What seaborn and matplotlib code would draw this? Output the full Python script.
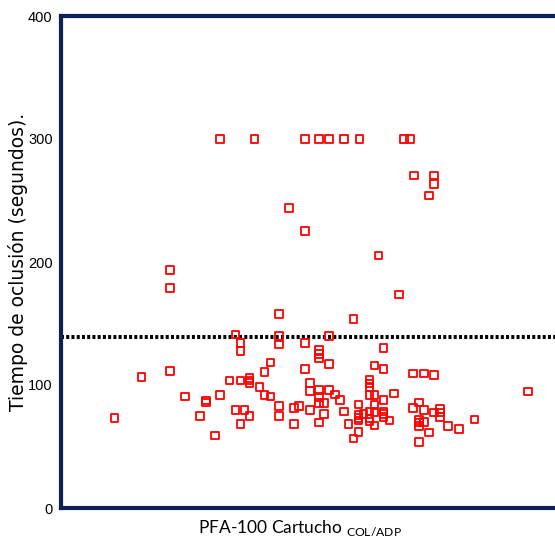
import matplotlib
matplotlib.use("Agg")
import matplotlib.pyplot as plt
import seaborn as sns
import pandas as pd

# ---- data ----
x_pos = [1.60, 1.95, 2.46, 2.60, 2.70, 2.85, 3.01, 3.46, 3.52,
         1.10, 1.10, 2.30, 2.46, 3.56, 3.76, 3.76, 3.71, 3.20, 3.41, 2.20, 2.95,
         1.76, 1.81, 1.81, 2.20, 2.20, 2.70, 2.46, 2.60, 2.60, 2.60, 2.70, 2.11, 2.05, 2.46,
         3.25, 3.16, 3.25, 3.55, 3.66, 3.76,
         0.81, 1.10, 1.70, 1.81, 1.90, 1.90, 1.90, 2.00, 2.05, 2.11, 1.25, 1.46, 1.46, 1.60,
         0.54, 1.40, 1.55, 1.76, 1.85, 1.90, 1.81, 2.20, 2.20, 2.35, 2.40, 2.35,
         2.51, 2.51, 2.51, 2.60, 2.60, 2.60, 2.65, 2.70, 2.76, 2.81, 2.65, 2.60, 2.85, 2.90, 2.95,
         3.00, 3.00, 3.00, 3.00, 3.00, 3.05,
         3.11, 3.11, 3.11, 3.11, 3.16, 3.11, 3.11, 3.11, 3.16, 3.16, 3.16,
         3.25, 3.25, 3.25, 3.25, 3.31, 3.36,
         3.55, 3.61, 3.66, 3.61, 3.61, 3.61, 3.66, 3.71, 3.61,
         3.76, 3.82, 3.82, 3.82, 3.90, 4.01, 4.17, 4.71]

occlusion_time = [300, 300, 300, 300, 300, 300, 300, 300, 300,
                  193.5, 178.9, 243.7, 225.2, 270.2, 270.2, 263.4, 254.2, 205.4, 173.7, 157.7, 153.7,
                  140.9, 134.1, 127.6, 139.8, 132.8, 139.8, 134.1, 128.5, 125.2, 121.7, 117.1, 118.4, 110.6, 113,
                  130.3, 115.7, 113, 109.2, 109.2, 107.9,
                  106.5, 111.6, 103.8, 103.8, 105.9, 103.8, 101.6, 98.4, 92.1, 90.5, 90.5, 87.4, 85.8, 91.9,
                  73.4, 74.8, 58.8, 79.9, 79.9, 74.8, 68.3, 82.7, 74.8, 81.5, 82.7, 68.3,
                  101.4, 94.9, 79.9, 95.9, 90, 85.3, 85.6, 95.9, 92.4, 87.8, 76.2, 69.5, 78.6, 68.3, 56.4,
                  84.3, 75.6, 73.4, 71, 61.8, 76.2,
                  104.1, 101.2, 98.4, 91.9, 91.9, 78.3, 72.9, 70.2, 84.3, 77.5, 67.2,
                  87.8, 78.3, 76.2, 74.2, 71, 93.2,
                  81.5, 85.9, 79.9, 71.5, 69.4, 66.7, 69.7, 61.5, 53.7,
                  77.5, 80.5, 77.5, 74.2, 66.9, 64.2, 72.1, 94.6]

cutoff = [139]
y_ticks = [0, 100, 200, 300, 400]
x_ticks = [0, 1, 2, 3, 4]

assert len(x_pos) == len(occlusion_time)
df = pd.DataFrame({"x": x_pos, "y": occlusion_time})

# ---- figure ----
sns.set_style("white")
navy = "#0b2158"
fig = plt.figure(figsize=(5.55, 5.46), dpi=100)
W, H = 555, 546
left_px, right_px, top_px, bottom_px = 61, 565, 16, 508
ax = fig.add_axes([left_px / W, (H - bottom_px) / H,
                   (right_px - left_px) / W, (bottom_px - top_px) / H])

sns.scatterplot(data=df, x="x", y="y", marker="s", s=30,
                facecolor="none", edgecolor="#ff0000", linewidth=1.3, ax=ax, zorder=3)

ax.axhline(cutoff[0], color="black", linewidth=2.9, linestyle=(0, (0.75, 0.55)),
           dash_capstyle="butt", zorder=2)

ax.set_xlim(0, (right_px - 62) / 99)
ax.set_ylim(0, 400)
ax.set_yticks(y_ticks)
ax.set_yticklabels([str(v) for v in y_ticks], fontfamily="Liberation Sans", fontsize=10.5)
ax.set_xticks(x_ticks)
ax.set_xticklabels([])

for sp in ax.spines.values():
    sp.set_color(navy)
    sp.set_linewidth(3.0)

ax.tick_params(axis="both", direction="out", length=4, width=1.0, color=navy, pad=2)
ax.tick_params(axis="y", labelcolor="black")

ax.set_ylabel("Tiempo de oclusión (segundos).", fontfamily="DejaVu Sans",
              fontsize=13.5, color="black", va="center")
ax.yaxis.set_label_coords(-0.085, 0.5)

ax.set_xlabel(r"PFA-100 Cartucho $_{\mathregular{COL/ADP}}$", fontfamily="Lato",
              fontsize=12.5, color="black", va="center")
ax.xaxis.set_label_coords((300 - left_px) / (right_px - left_px), -0.042)

fig.savefig("out.png", dpi=100)
